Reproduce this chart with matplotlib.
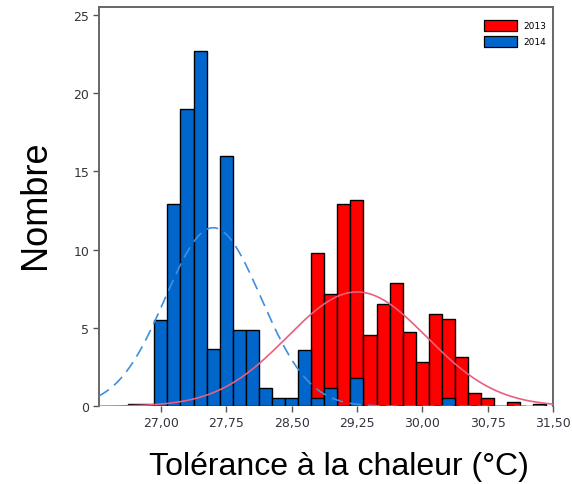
# Heat tolerance histograms for 2013 and 2014 with fitted normal curves

import numpy as np
import matplotlib.pyplot as plt
from matplotlib.patches import Patch

# Histogram bins (centre of each 0.15 degC class)
bin_centres = [26.70, 26.85, 27.00, 27.15, 27.30, 27.45, 27.60, 27.75,
               27.90, 28.05, 28.20, 28.35, 28.50, 28.65, 28.80, 28.95,
               29.10, 29.25, 29.40, 29.55, 29.70, 29.85, 30.00, 30.15,
               30.30, 30.45, 30.60, 30.75, 30.90, 31.05, 31.20, 31.35]
bin_width = 0.15

# Bar heights per year
values_2013 = [0.12, 0.12, 0, 0, 0, 0, 0, 0,
               0, 0, 0, 0, 0, 0, 9.8, 7.17,
               12.9, 13.2, 4.57, 6.5, 7.9, 4.72, 2.8, 5.9,
               5.57, 3.13, 0.83, 0.53, 0.05, 0.26, 0.05, 0.13]
values_2014 = [0, 0, 5.5, 12.9, 19.0, 22.7, 3.65, 15.95,
               4.85, 4.85, 1.2, 0.55, 0.55, 3.6, 0.55, 1.17,
               0, 1.79, 0, 0, 0, 0, 0, 0,
               0.51, 0, 0, 0, 0, 0, 0, 0]

# Fitted normal curves: (mean, standard deviation, peak height)
fit_2013 = (29.25, 0.80, 7.3)
fit_2014 = (27.60, 0.55, 11.4)

tick_values = [27.00, 27.75, 28.50, 29.25, 30.00, 30.75, 31.50]
tick_labels = ["27,00", "27,75", "28,50", "29,25", "30,00", "30,75", "31,50"]
ytick_values = [0, 5, 10, 15, 20, 25]

red = "#ff0000"
blue = "#0066cc"

fig = plt.figure(figsize=(5.72, 4.85), dpi=100)
ax = fig.add_axes([0.1731, 0.1602, 0.7937, 0.8227])

x = np.array(bin_centres)
v13 = np.array(values_2013)
v14 = np.array(values_2014)

# 2013 behind, 2014 in front
ax.bar(x[v13 > 0], v13[v13 > 0], width=bin_width, color=red,
       edgecolor="black", linewidth=1.0, zorder=2)
ax.bar(x[v14 > 0], v14[v14 > 0], width=bin_width, color=blue,
       edgecolor="black", linewidth=1.0, zorder=3)

xs = np.linspace(26.29, 31.5, 400)
mu, sd, peak = fit_2013
ax.plot(xs, peak * np.exp(-0.5 * ((xs - mu) / sd) ** 2), color="#e8607e",
        linewidth=1.2, zorder=4)
mu, sd, peak = fit_2014
ax.plot(xs, peak * np.exp(-0.5 * ((xs - mu) / sd) ** 2), color="#3f8fe0",
        linewidth=1.2, dashes=(7, 4), zorder=4)

ax.set_xlim(26.29, 31.5)
ax.set_ylim(0, 25.47)
ax.set_xticks(tick_values)
ax.set_xticklabels(tick_labels)
ax.set_yticks(ytick_values)
ax.tick_params(axis="both", direction="out", length=4, width=1,
               color="#555555", labelsize=9, labelcolor="#333340", pad=3)

for side in ["left", "top", "right"]:
    ax.spines[side].set_color("#666666")
    ax.spines[side].set_linewidth(1.4)
ax.spines["bottom"].set_visible(False)

handles = [Patch(facecolor=red, edgecolor="black", linewidth=0.9, label="2013"),
           Patch(facecolor=blue, edgecolor="black", linewidth=0.9, label="2014")]
fig.legend(handles=handles, loc="upper left", bbox_to_anchor=(0.839, 0.967),
           bbox_transform=fig.transFigure, frameon=False, fontsize=6.5,
           borderpad=0, handlelength=3.65, handleheight=1.55,
           handletextpad=0.66, labelspacing=0.55)

fig.text(0.593, 0.02, "Tolérance à la chaleur (°C)", fontsize=23,
         family="Liberation Sans", ha="center", va="baseline")
fig.text(0.0787, 0.577, "Nombre", fontsize=26, family="Liberation Sans",
         rotation=90, rotation_mode="anchor", ha="center", va="baseline")

fig.savefig("out.png", dpi=100)
plt.close(fig)
